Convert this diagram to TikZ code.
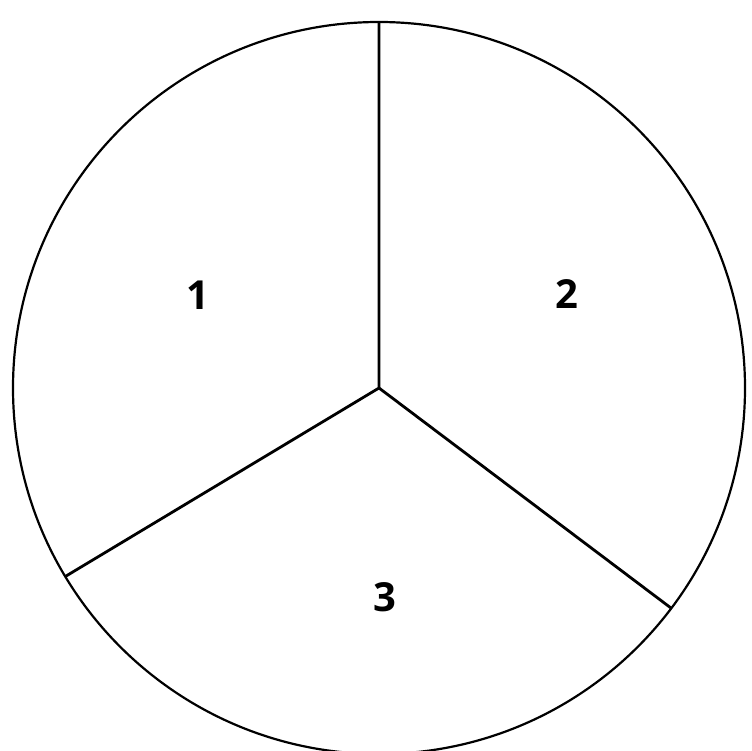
\documentclass[tikz,border=0pt]{standalone}
\usepackage{fontspec}
\setmainfont{Open Sans}
\usepackage{tikz}
\usetikzlibrary{calc, positioning}

\begin{document}
\begin{tikzpicture}[x=1pt, y=1pt,
    sector/.style={font=\bfseries\fontsize{40}{40}\selectfont, inner sep=0pt}]
    % Rahmen
    \useasboundingbox (0, 0) rectangle (752, 750);
    \clip (0, 0) rectangle (752, 750);

    % Kreis
    \coordinate (m) at (379, 362);
    \draw[line width=2.2pt] (m) circle (366);

    % Speichen
    \coordinate (top) at ($(m) + (90:366)$);
    \coordinate (left) at ($(m) + (211:366)$);
    \coordinate (right) at ($(m) + (-37:366)$);
    \draw[line width=2.8pt, line join=round] (top) -- (m) -- (left);
    \draw[line width=2.8pt] (m) -- (right);

    % Sektoren
    \node[sector] (s1) at (198, 455) {1};
    \node[sector] (s2) at (567, 456) {2};
    \node[sector] (s3) at (385, 153) {3};
\end{tikzpicture}
\end{document}
